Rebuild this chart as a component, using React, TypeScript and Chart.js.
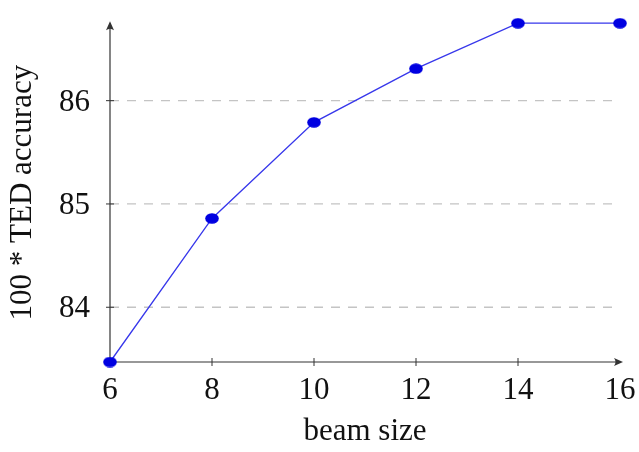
import React, { useEffect, useRef } from 'react';
import { Chart, registerables } from 'chart.js';

Chart.register(...registerables);

const beamSizes = [6, 8, 10, 12, 14, 16];
const tedAccuracy = [83.47, 84.86, 85.79, 86.31, 86.75, 86.75];
const xTickValues = [6, 8, 10, 12, 14, 16];
const yTickValues = [84, 85, 86];
const xAxisTitle = 'beam size';
const yAxisTitle = '100 * TED accuracy';

const FONT = "'Liberation Serif', 'Times New Roman', serif";
const AXIS_COLOR = '#333333';

function makeEllipse(): HTMLCanvasElement {
  const c = document.createElement('canvas');
  c.width = 14;
  c.height = 11;
  const g = c.getContext('2d')!;
  g.fillStyle = 'rgb(0,0,225)';
  g.beginPath();
  g.ellipse(7, 5.5, 6.8, 5.3, 0, 0, Math.PI * 2);
  g.fill();
  return c;
}

const axesPlugin = {
  id: 'pgfAxes',
  beforeDatasetsDraw(chart: any) {
    const { ctx, chartArea } = chart;
    const { left, right, top, bottom } = chartArea;
    const xs = chart.scales.x;
    const ys = chart.scales.y;
    ctx.save();
    // dashed horizontal grid lines
    ctx.strokeStyle = '#c4c4c4';
    ctx.lineWidth = 1.3;
    ctx.setLineDash([9, 8]);
    for (const v of yTickValues) {
      const y = ys.getPixelForValue(v);
      ctx.beginPath();
      ctx.moveTo(left, y);
      ctx.lineTo(right, y);
      ctx.stroke();
    }
    ctx.setLineDash([]);
    ctx.strokeStyle = AXIS_COLOR;
    ctx.fillStyle = AXIS_COLOR;
    ctx.lineWidth = 1.2;
    // x axis
    ctx.beginPath();
    ctx.moveTo(left, bottom);
    ctx.lineTo(right, bottom);
    ctx.stroke();
    const tipX = right + 3;
    ctx.beginPath();
    ctx.moveTo(tipX, bottom);
    ctx.lineTo(tipX - 9, bottom - 4);
    ctx.quadraticCurveTo(tipX - 6, bottom, tipX - 9, bottom + 4);
    ctx.closePath();
    ctx.fill();
    // y axis
    ctx.beginPath();
    ctx.moveTo(left, bottom);
    ctx.lineTo(left, top);
    ctx.stroke();
    const tipY = top - 2;
    ctx.beginPath();
    ctx.moveTo(left, tipY);
    ctx.lineTo(left - 4, tipY + 9);
    ctx.quadraticCurveTo(left, tipY + 6, left + 4, tipY + 9);
    ctx.closePath();
    ctx.fill();
    // tick marks
    ctx.lineWidth = 1;
    for (const v of yTickValues) {
      const y = ys.getPixelForValue(v);
      ctx.beginPath();
      ctx.moveTo(left - 4, y);
      ctx.lineTo(left + 4, y);
      ctx.stroke();
    }
    for (const v of xTickValues.slice(1, -1)) {
      const x = xs.getPixelForValue(v);
      ctx.beginPath();
      ctx.moveTo(x, bottom - 4);
      ctx.lineTo(x, bottom + 4);
      ctx.stroke();
    }
    ctx.restore();
  },
};

export default function App() {
  const ref = useRef<HTMLCanvasElement | null>(null);

  useEffect(() => {
    if (!ref.current) return;
    const chart = new Chart(ref.current, {
      type: 'line',
      data: {
        datasets: [
          {
            data: beamSizes.map((x, i) => ({ x, y: tedAccuracy[i] })),
            borderColor: 'rgb(55,55,235)',
            borderWidth: 1.3,
            pointStyle: makeEllipse() as any,
            pointBackgroundColor: 'rgb(0,0,225)',
            pointBorderWidth: 0,
            pointRadius: 6,
            clip: false as any,
            tension: 0,
          },
        ],
      },
      options: {
        responsive: false,
        animation: false,
        layout: { padding: { top: 23.2, right: 19, left: 0, bottom: 0 } },
        plugins: {
          legend: { display: false },
          tooltip: { enabled: false },
        },
        scales: {
          x: {
            type: 'linear',
            min: 6,
            max: 16,
            afterBuildTicks: (s: any) => {
              s.ticks = xTickValues.map((v) => ({ value: v }));
            },
            afterFit: (s: any) => {
              s.height = 90;
              s.paddingLeft = 0;
              s.paddingRight = 0;
            },
            grid: { display: false, drawTicks: false },
            border: { display: false },
            ticks: {
              color: '#111',
              font: { family: FONT, size: 31 },
              padding: 10,
              maxRotation: 0,
              autoSkip: false,
              callback: (v: any) => String(v),
            },
            title: {
              display: true,
              text: xAxisTitle,
              color: '#111',
              font: { family: FONT, size: 31 },
              padding: { top: 0, bottom: 2 },
            },
          },
          y: {
            type: 'linear',
            min: 83.47,
            max: 86.75,
            afterBuildTicks: (s: any) => {
              s.ticks = yTickValues.map((v) => ({ value: v }));
            },
            afterFit: (s: any) => {
              s.width = 110;
              s.paddingTop = 0;
              s.paddingBottom = 0;
            },
            grid: { display: false, drawTicks: false },
            border: { display: false },
            ticks: {
              color: '#111',
              font: { family: FONT, size: 31 },
              padding: 20,
              labelOffset: 2,
              autoSkip: false,
              callback: (v: any) => String(v),
            },
            title: {
              display: true,
              text: yAxisTitle,
              color: '#111',
              font: { family: FONT, size: 31 },
              padding: { top: 4, bottom: 0 },
            },
          },
        },
      },
      plugins: [axesPlugin],
    });
    return () => chart.destroy();
  }, []);

  return (
    <div style={{ position: 'absolute', left: 0, top: 0, width: 639, height: 452, background: '#fff' }}>
      <canvas ref={ref} width={639} height={452} />
    </div>
  );
}
